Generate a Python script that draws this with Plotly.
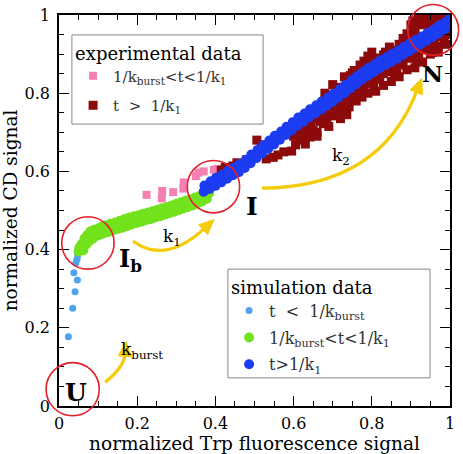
import numpy as np
import plotly.graph_objects as go

# ---------------- data ----------------
# experimental data, 1/k_burst < t < 1/k_1 (pink squares)
exp1_x = [0.224, 0.263, 0.264, 0.292, 0.318, 0.319, 0.350, 0.357, 0.370, 0.396, 0.405]
exp1_y = [0.540, 0.531, 0.550, 0.547, 0.556, 0.572, 0.588, 0.597, 0.600, 0.604, 0.606]

# experimental data, t > 1/k_1 (dark red squares)
exp2_x = [0.415, 0.425, 0.435, 0.445, 0.455, 0.468, 0.480, 0.506, 0.518,
          0.530, 0.548, 0.560, 0.575, 0.595, 0.605, 0.620, 0.632, 0.642, 0.650,
          0.660, 0.668, 0.676, 0.685, 0.693, 0.700, 0.680, 0.700, 0.712,
          0.710, 0.720, 0.727, 0.736, 0.742, 0.750, 0.745, 0.755, 0.760, 0.770,
          0.775, 0.785, 0.770, 0.780, 0.790, 0.800, 0.795, 0.805, 0.812, 0.820,
          0.830, 0.835, 0.845, 0.850, 0.858, 0.864, 0.870, 0.878, 0.880, 0.890,
          0.895, 0.905, 0.910, 0.915, 0.920, 0.925, 0.930, 0.935, 0.942, 0.948,
          0.955, 0.960, 0.965, 0.970, 0.978, 0.985, 0.990, 0.995, 0.905, 0.918,
          0.945, 0.960, 0.975, 0.985, 0.955, 0.970, 0.985, 0.995, 0.720, 0.740,
          0.760, 0.780, 0.800, 0.820, 0.840, 0.860, 0.880, 0.900, 0.920, 0.940,
          0.730, 0.810, 0.850, 0.870, 0.910, 0.950, 0.990, 0.880, 0.900,
          0.600, 0.615, 0.630, 0.645, 0.660, 0.675, 0.690, 0.705, 0.715, 0.735,
          0.755, 0.765, 0.790, 0.805, 0.825, 0.845, 0.865, 0.885, 0.905, 0.925,
          0.945, 0.965, 0.985, 0.998, 0.730, 0.750, 0.790, 0.810, 0.830, 0.850,
          0.870, 0.890, 0.910, 0.930, 0.950, 0.970, 0.990, 0.920, 0.900, 0.760,
          0.790, 0.830, 0.890, 0.930, 0.970, 0.630, 0.660, 0.690, 0.720]
exp2_y = [0.603, 0.610, 0.606, 0.614, 0.622, 0.618, 0.630, 0.680, 0.668,
          0.632, 0.636, 0.642, 0.650, 0.652, 0.668, 0.680, 0.693, 0.688, 0.705,
          0.700, 0.728, 0.722, 0.735, 0.748, 0.742, 0.800, 0.822, 0.815,
          0.757, 0.768, 0.778, 0.745, 0.765, 0.785, 0.845, 0.858, 0.800, 0.810,
          0.790, 0.825, 0.872, 0.882, 0.895, 0.905, 0.830, 0.815, 0.845, 0.835,
          0.850, 0.905, 0.918, 0.862, 0.848, 0.850, 0.872, 0.885, 0.940, 0.952,
          0.890, 0.900, 0.968, 0.880, 0.980, 0.912, 0.990, 0.925, 0.996, 0.915,
          0.997, 0.935, 0.998, 0.945, 0.998, 0.955, 0.996, 0.965, 0.985, 0.993,
          0.978, 0.986, 0.987, 0.977, 0.905, 0.920, 0.935, 0.950, 0.773, 0.790,
          0.800, 0.818, 0.830, 0.843, 0.855, 0.866, 0.880, 0.890, 0.902, 0.914,
          0.750, 0.805, 0.830, 0.842, 0.865, 0.900, 0.925, 0.925, 0.940,
          0.690, 0.700, 0.712, 0.722, 0.735, 0.745, 0.760, 0.770, 0.780, 0.792,
          0.808, 0.820, 0.835, 0.848, 0.858, 0.872, 0.882, 0.895, 0.908, 0.920,
          0.932, 0.945, 0.958, 0.970, 0.842, 0.852, 0.875, 0.890, 0.898, 0.910,
          0.925, 0.940, 0.955, 0.975, 0.990, 0.995, 0.998, 0.990, 0.975, 0.780,
          0.800, 0.820, 0.860, 0.880, 0.905, 0.670, 0.690, 0.715, 0.735]

# simulation data, t < 1/k_burst (light blue)
sim1_x = [0.024, 0.035, 0.041, 0.047, 0.038, 0.043, 0.046, 0.048, 0.047]
sim1_y = [0.177, 0.250, 0.292, 0.322, 0.341, 0.365, 0.375, 0.385, 0.393]

# simulation data, 1/k_burst < t < 1/k_1 (green)
sim2_x = [0.050, 0.052, 0.058, 0.062, 0.065, 0.070, 0.072, 0.078, 0.080, 0.086,
          0.090, 0.095, 0.100, 0.105, 0.110, 0.115, 0.120, 0.126, 0.132, 0.138,
          0.144, 0.150, 0.156, 0.162, 0.168, 0.174, 0.180, 0.186, 0.192, 0.198,
          0.204, 0.210, 0.216, 0.222, 0.228, 0.234, 0.240, 0.246, 0.252, 0.258,
          0.264, 0.270, 0.276, 0.282, 0.288, 0.294, 0.300, 0.306, 0.312, 0.318,
          0.324, 0.330, 0.336, 0.342, 0.348, 0.354, 0.360, 0.366, 0.372, 0.378,
          0.384]
sim2_y = [0.395, 0.405, 0.414, 0.398, 0.428, 0.413, 0.437, 0.423, 0.446, 0.428,
          0.451, 0.435, 0.454, 0.438, 0.459, 0.442, 0.462, 0.445, 0.466, 0.449,
          0.469, 0.453, 0.474, 0.456, 0.478, 0.460, 0.482, 0.464, 0.485, 0.468,
          0.488, 0.471, 0.492, 0.475, 0.495, 0.478, 0.498, 0.482, 0.502, 0.485,
          0.506, 0.489, 0.509, 0.493, 0.513, 0.497, 0.517, 0.501, 0.521, 0.505,
          0.525, 0.509, 0.529, 0.513, 0.533, 0.518, 0.537, 0.523, 0.540, 0.530,
          0.544]

# simulation data, t > 1/k_1 (blue)
sim3_x = [0.370, 0.372, 0.385, 0.388, 0.400, 0.402, 0.415, 0.418, 0.430, 0.432,
          0.445, 0.448, 0.460, 0.462, 0.475, 0.478, 0.490, 0.492, 0.505, 0.508,
          0.520, 0.522, 0.535, 0.538, 0.550, 0.552, 0.565, 0.568, 0.580, 0.582,
          0.595, 0.598, 0.610, 0.612, 0.625, 0.628, 0.640, 0.642, 0.655, 0.658,
          0.670, 0.672, 0.685, 0.688, 0.700, 0.702, 0.715, 0.718, 0.730, 0.732,
          0.745, 0.748, 0.760, 0.762, 0.775, 0.778, 0.790, 0.792, 0.805, 0.808,
          0.820, 0.822, 0.835, 0.838, 0.850, 0.852, 0.865, 0.868, 0.880, 0.882,
          0.895, 0.898, 0.910, 0.912, 0.925, 0.928, 0.940, 0.942, 0.955, 0.958,
          0.970, 0.972, 0.985, 0.988, 0.998, 0.998]
sim3_y = [0.548, 0.564, 0.555, 0.575, 0.563, 0.584, 0.572, 0.592, 0.581, 0.602,
          0.590, 0.610, 0.598, 0.619, 0.609, 0.630, 0.621, 0.643, 0.634, 0.655,
          0.646, 0.667, 0.658, 0.679, 0.669, 0.691, 0.681, 0.702, 0.693, 0.714,
          0.705, 0.726, 0.717, 0.738, 0.727, 0.748, 0.738, 0.759, 0.748, 0.769,
          0.758, 0.779, 0.768, 0.789, 0.778, 0.799, 0.789, 0.810, 0.800, 0.821,
          0.812, 0.833, 0.823, 0.844, 0.835, 0.855, 0.844, 0.865, 0.854, 0.874,
          0.863, 0.884, 0.872, 0.892, 0.880, 0.901, 0.888, 0.909, 0.898, 0.919,
          0.907, 0.928, 0.916, 0.936, 0.925, 0.945, 0.934, 0.954, 0.943, 0.963,
          0.953, 0.973, 0.963, 0.982, 0.974, 0.990]

tick_vals = [0, 0.2, 0.4, 0.6, 0.8, 1]
tick_text = ["0", "0.2", "0.4", "0.6", "0.8", "1"]

# ---------------- styling ----------------
FONT = "DejaVu Serif"
PINK = "#F480B2"
DARKRED = "#8C0A0A"
LIGHTBLUE = "#4FA3EE"
GREEN = "#72E21C"
BLUE = "#1C3CF2"
YELLOW = "#F5CC0A"
RED = "#E4202A"

fig = go.Figure()
fig.add_trace(go.Scatter(x=exp1_x, y=exp1_y, mode="markers", name="1/k<sub>burst</sub>&lt;t&lt;1/k<sub>1</sub>",
                         marker=dict(symbol="square", size=8, color=PINK), legend="legend", legendgroup="e1"))
fig.add_trace(go.Scatter(x=exp2_x, y=exp2_y, mode="markers", name="t  &gt;  1/k<sub>1</sub>",
                         marker=dict(symbol="square", size=9, color=DARKRED), legend="legend", legendgroup="e2"))
fig.add_trace(go.Scatter(x=sim1_x, y=sim1_y, mode="markers", name="t  &lt;  1/k<sub>burst</sub>",
                         marker=dict(symbol="circle", size=7, color=LIGHTBLUE), legend="legend2", legendgroup="s1"))
fig.add_trace(go.Scatter(x=sim2_x, y=sim2_y, mode="markers", name="1/k<sub>burst</sub>&lt;t&lt;1/k<sub>1</sub>",
                         marker=dict(symbol="circle", size=10, color=GREEN), legend="legend2", legendgroup="s2"))
fig.add_trace(go.Scatter(x=sim3_x, y=sim3_y, mode="markers", name="t&gt;1/k<sub>1</sub>",
                         marker=dict(symbol="circle", size=10, color=BLUE), legend="legend2", legendgroup="s3"))

shapes = []
# legend frames (white boxes with grey border, legends drawn on top without own frame)
for x0, x1, y0, y1 in [(0.033, 0.522, 0.721, 0.949), (0.432, 0.949, 0.072, 0.350)]:
    shapes.append(dict(type="rect", xref="paper", yref="paper", x0=x0, x1=x1, y0=y0, y1=y1,
                       fillcolor="white", line=dict(color="#888888", width=1), layer="above"))

# red circles (paper coords == data coords because range is [0,1] on full domain)
for cx, cy, r in [(0.035, 0.043, 0.068), (0.074, 0.417, 0.067), (0.395, 0.561, 0.067), (0.957, 0.962, 0.065)]:
    shapes.append(dict(type="circle", xref="paper", yref="paper", x0=cx - r, x1=cx + r, y0=cy - r, y1=cy + r,
                       line=dict(color=RED, width=1.6), layer="above"))

# yellow curved arrows: (start, control, end)
arrows = [((0.118, 0.061), (0.166, 0.098), (0.169, 0.133)),
          ((0.189, 0.422), (0.271, 0.361), (0.373, 0.455)),
          ((0.519, 0.557), (0.822, 0.560), (0.916, 0.808))]
for p0, c, p2 in arrows:
    shapes.append(dict(type="path", xref="paper", yref="paper",
                       path=f"M {p0[0]},{p0[1]} Q {c[0]},{c[1]} {p2[0]},{p2[1]}",
                       line=dict(color=YELLOW, width=3.2), layer="above"))
    d = np.array(p2) - np.array(c)
    u = d / np.linalg.norm(d)
    n = np.array([-u[1], u[0]])
    base = np.array(p2) - u * 0.006
    tip = base + u * 0.038
    b1 = base + n * 0.017
    b2 = base - n * 0.017
    shapes.append(dict(type="path", xref="paper", yref="paper",
                       path=f"M {tip[0]},{tip[1]} L {b1[0]},{b1[1]} L {b2[0]},{b2[1]} Z",
                       fillcolor=YELLOW, line=dict(color=YELLOW, width=1), layer="above"))

annotations = []
for txt, x, y, size in [("<b>U</b>", 0.043, 0.035, 25), ("<b>I<sub>b</sub></b>", 0.182, 0.373, 24),
                        ("<b>I</b>", 0.493, 0.510, 25), ("<b>N</b>", 0.955, 0.851, 23)]:
    annotations.append(dict(text=txt, x=x, y=y, xref="paper", yref="paper", showarrow=False,
                            font=dict(family=FONT, size=size, color="black"), xanchor="center", yanchor="middle"))
for txt, x, y in [("k<sub>burst</sub>", 0.212, 0.143), ("k<sub>1</sub>", 0.290, 0.432), ("k<sub>2</sub>", 0.722, 0.637)]:
    annotations.append(dict(text=txt, x=x, y=y, xref="paper", yref="paper", showarrow=False,
                            font=dict(family=FONT, size=17, color="black"), xanchor="center", yanchor="middle"))

axis_common = dict(range=[0, 1], tickvals=tick_vals, ticktext=tick_text, ticks="inside", ticklen=10,
                   tickwidth=1.3, tickcolor="black", showline=True, linecolor="black", linewidth=1.5,
                   mirror="ticks", showgrid=False, zeroline=False, automargin=False,
                   tickfont=dict(family=FONT, size=16, color="black"),
                   minor=dict(dtick=0.05, tick0=0, ticks="inside", ticklen=5, tickcolor="black", tickwidth=1.1))

fig.update_layout(
    width=463, height=454,
    margin=dict(l=59, r=13, t=15, b=48, autoexpand=False),
    paper_bgcolor="white", plot_bgcolor="white",
    xaxis=dict(**axis_common, ticklabelstandoff=2,
               title=dict(text="normalized Trp fluorescence signal",
                          font=dict(family=FONT, size=18.5, color="black"), standoff=1)),
    yaxis=dict(**axis_common, ticklabelstandoff=4,
               title=dict(text="normalized CD signal", font=dict(family=FONT, size=18.5, color="black"), standoff=4)),
    shapes=shapes,
    annotations=annotations,
    legend=dict(x=0.036, y=0.946, xanchor="left", yanchor="top", bgcolor="rgba(0,0,0,0)", borderwidth=0,
                font=dict(family=FONT, size=15, color="#333"),
                title=dict(text="experimental data", font=dict(family=FONT, size=18, color="black")),
                itemsizing="trace", tracegroupgap=7),
    legend2=dict(x=0.435, y=0.347, xanchor="left", yanchor="top", bgcolor="rgba(0,0,0,0)", borderwidth=0,
                 font=dict(family=FONT, size=16, color="#333"),
                 title=dict(text="simulation data", font=dict(family=FONT, size=18, color="black")),
                 itemsizing="trace", tracegroupgap=3),
    showlegend=True,
)

fig.write_html("out.html", config={"displayModeBar": False},
               post_script="document.body.style.margin='0px';")
